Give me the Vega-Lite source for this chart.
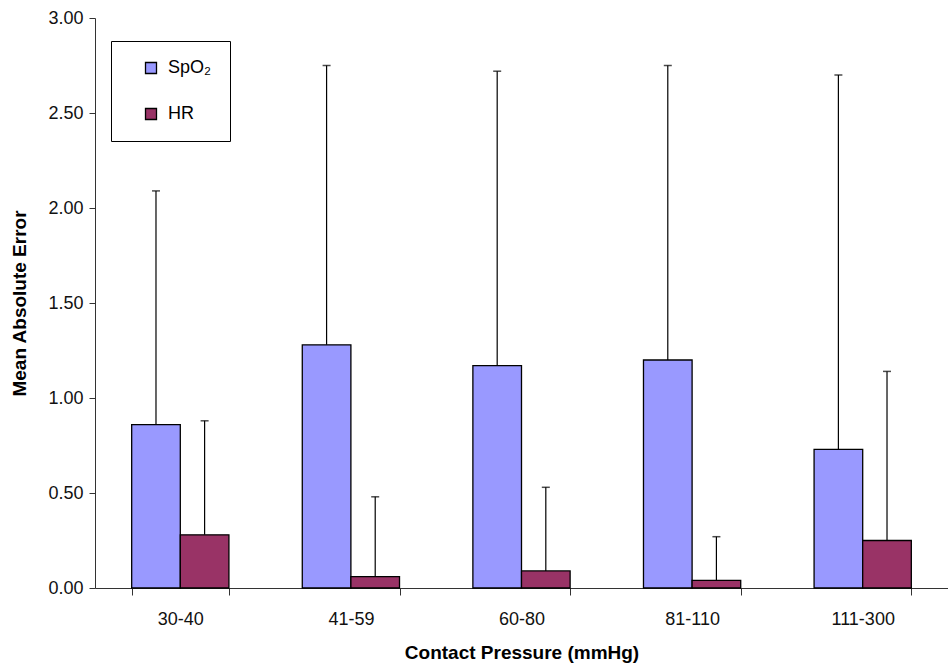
{
  "$schema": "https://vega.github.io/schema/vega-lite/v6.json",
  "autosize": {"type": "none"},
  "width": 853,
  "height": 570,
  "padding": {"left": 95, "top": 18, "right": 0, "bottom": 78},
  "background": "white",
  "config": {
    "view": {"stroke": null},
    "font": "Liberation Sans",
    "axis": {"labelFont": "Liberation Sans", "titleFont": "Liberation Sans", "labelColor": "#111", "titleColor": "#000", "domainColor": "#333", "tickColor": "#333", "grid": false},
    "legend": {"labelFont": "Liberation Sans"}
  },
  "data": {
    "values": [
      {"pressure": "30-40", "measure": "SpO₂", "mean": 0.86, "upper": 2.09},
      {"pressure": "30-40", "measure": "HR", "mean": 0.28, "upper": 0.88},
      {"pressure": "41-59", "measure": "SpO₂", "mean": 1.28, "upper": 2.75},
      {"pressure": "41-59", "measure": "HR", "mean": 0.06, "upper": 0.48},
      {"pressure": "60-80", "measure": "SpO₂", "mean": 1.17, "upper": 2.72},
      {"pressure": "60-80", "measure": "HR", "mean": 0.09, "upper": 0.53},
      {"pressure": "81-110", "measure": "SpO₂", "mean": 1.2, "upper": 2.75},
      {"pressure": "81-110", "measure": "HR", "mean": 0.04, "upper": 0.27},
      {"pressure": "111-300", "measure": "SpO₂", "mean": 0.73, "upper": 2.7},
      {"pressure": "111-300", "measure": "HR", "mean": 0.25, "upper": 1.14}
    ]
  },
  "encoding": {
    "x": {
      "field": "pressure", "type": "nominal", "sort": null,
      "scale": {"paddingInner": 0.43, "paddingOuter": 0.215},
      "axis": {"title": "Contact Pressure (mmHg)", "labelAngle": 0, "labelFontSize": 18, "titleFontSize": 19, "titleFontWeight": "bold", "tickBand": "extent", "tickSize": 7, "labelPadding": 15, "titlePadding": 15}
    },
    "xOffset": {"field": "measure", "type": "nominal", "sort": ["SpO₂", "HR"], "scale": {"paddingInner": 0, "paddingOuter": 0}}
  },
  "layer": [
    {
      "mark": {"type": "bar", "stroke": "#000", "strokeWidth": 1.3},
      "encoding": {
        "y": {
          "field": "mean", "type": "quantitative",
          "scale": {"domain": [0, 3], "nice": false},
          "axis": {"title": "Mean Absolute Error", "format": ".2f", "values": [0, 0.5, 1, 1.5, 2, 2.5, 3], "labelFontSize": 18, "titleFontSize": 19, "titleFontWeight": "bold", "tickSize": 6, "labelPadding": 6, "titlePadding": 18}
        },
        "color": {
          "field": "measure", "type": "nominal", "sort": ["SpO₂", "HR"],
          "scale": {"domain": ["SpO₂", "HR"], "range": ["#9999FF", "#993366"]},
          "legend": {
            "title": null, "orient": "none", "legendX": 16, "legendY": 23,
            "direction": "vertical", "symbolType": "square", "symbolSize": 121,
            "symbolStrokeColor": "#000", "symbolStrokeWidth": 1.3,
            "labelFontSize": 18, "labelColor": "#000", "labelOffset": 8,
            "padding": 18, "symbolOffset": 13, "rowPadding": 28,
            "strokeColor": "#000", "fillColor": "white"
          }
        }
      }
    },
    {
      "mark": {"type": "rule", "color": "#000", "strokeWidth": 1.2},
      "encoding": {
        "y": {"field": "mean", "type": "quantitative"},
        "y2": {"field": "upper"}
      }
    },
    {
      "mark": {"type": "tick", "color": "#000", "thickness": 1.5, "size": 8},
      "encoding": {
        "y": {"field": "upper", "type": "quantitative"}
      }
    }
  ]
}
